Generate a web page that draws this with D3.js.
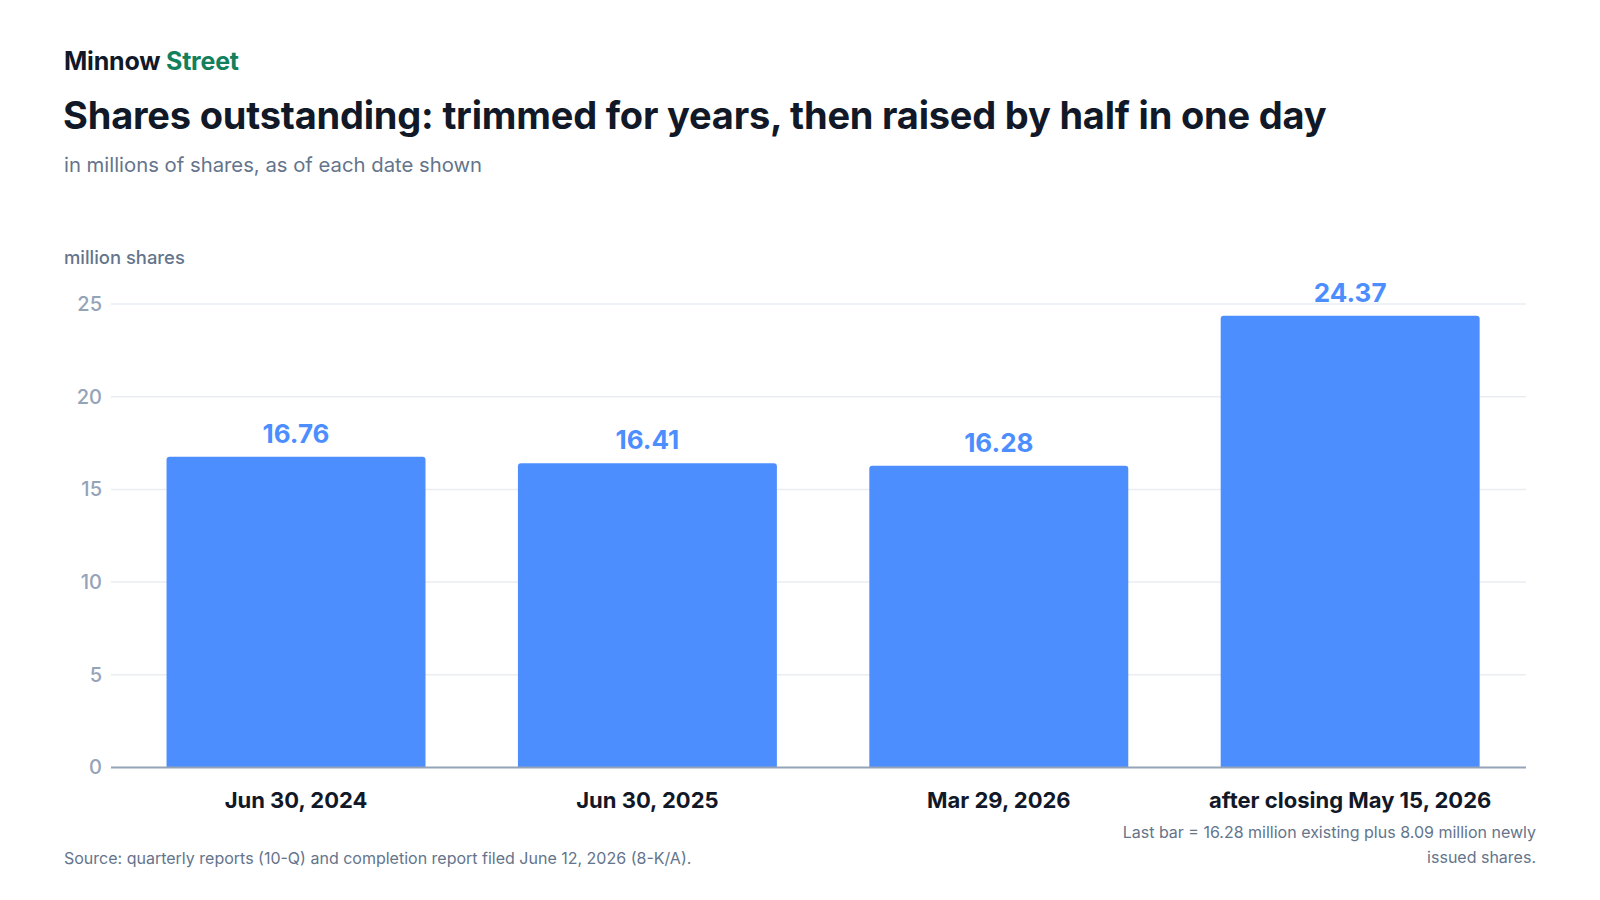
<!DOCTYPE html>
<html>
<head>
<meta charset="utf-8">
<script src="https://cdn.jsdelivr.net/npm/d3@7"></script>
<style>
  body { margin: 0; background: #fff; }
  svg { font-family: Inter, "Noto Sans", sans-serif; display: block; }
</style>
</head>
<body>
<div id="chart"></div>
<script>
// data
var categories = ["Jun 30, 2024", "Jun 30, 2025", "Mar 29, 2026", "after closing May 15, 2026"];
var values = [16.76, 16.41, 16.28, 24.37];
var yTicks = [0, 5, 10, 15, 20, 25];
var noteLines = ["Last bar = 16.28 million existing plus 8.09 million newly", "issued shares."];

var width = 1600, height = 900;
var plotLeft = 111, plotRight = 1526, plotTop = 304, plotBottom = 767.5;

var svg = d3.select("#chart").append("svg")
    .attr("width", width)
    .attr("height", height);

// header
var brand = svg.append("text")
    .attr("x", 64).attr("y", 70)
    .attr("font-size", 25).attr("font-weight", 700)
    .attr("letter-spacing", -0.2);
brand.append("tspan").attr("fill", "#111827").text("Minnow ");
brand.append("tspan").attr("fill", "#12805c").text("Street");

svg.append("text")
    .attr("x", 63).attr("y", 129)
    .attr("font-size", 38).attr("font-weight", 700)
    .attr("letter-spacing", -0.2)
    .attr("fill", "#111827")
    .text("Shares outstanding: trimmed for years, then raised by half in one day");

svg.append("text")
    .attr("x", 64).attr("y", 172)
    .attr("font-size", 20.3)
    .attr("fill", "#64748b")
    .text("in millions of shares, as of each date shown");

svg.append("text")
    .attr("x", 64).attr("y", 264)
    .attr("font-size", 18.4).attr("font-weight", 500)
    .attr("fill", "#64748b")
    .text("million shares");

// bands sit a little right of the grid's left edge
var x = d3.scaleBand()
    .domain(categories)
    .range([plotLeft + 4.6, plotRight + 4.6])
    .paddingInner(0.263)
    .paddingOuter(0.145);

var y = d3.scaleLinear()
    .domain([0, 25])
    .range([plotBottom, plotTop]);

// gridlines
svg.append("g")
    .selectAll("line")
    .data(yTicks.filter(function (d) { return d > 0; }))
    .enter().append("line")
    .attr("x1", plotLeft).attr("x2", plotRight)
    .attr("y1", function (d) { return y(d); })
    .attr("y2", function (d) { return y(d); })
    .attr("stroke", "#e9edf2")
    .attr("stroke-width", 1.5);

// y axis labels
var yAxis = svg.append("g")
    .attr("transform", "translate(" + plotLeft + ",0)")
    .call(d3.axisLeft(y).tickValues(yTicks).tickSize(0).tickPadding(9));
yAxis.select(".domain").remove();
yAxis.selectAll("text")
    .attr("font-family", "Inter, sans-serif")
    .attr("font-size", 20)
    .attr("font-weight", 500)
    .attr("fill", "#94a3b8");

// bars with slightly rounded tops
function barPath(d, i) {
    var x0 = x(categories[i]), w = x.bandwidth(), y0 = y(d), y1 = y(0), r = 3;
    return "M" + x0 + "," + y1 +
        "V" + (y0 + r) + "Q" + x0 + "," + y0 + " " + (x0 + r) + "," + y0 +
        "H" + (x0 + w - r) + "Q" + (x0 + w) + "," + y0 + " " + (x0 + w) + "," + (y0 + r) +
        "V" + y1 + "Z";
}

svg.append("g")
    .selectAll("path")
    .data(values)
    .enter().append("path")
    .attr("d", barPath)
    .attr("fill", "#4d8eff");

// value labels
svg.append("g")
    .selectAll("text")
    .data(values)
    .enter().append("text")
    .attr("x", function (d, i) { return x(categories[i]) + x.bandwidth() / 2; })
    .attr("y", function (d) { return y(d) - 14; })
    .attr("text-anchor", "middle")
    .attr("font-size", 26).attr("font-weight", 700)
    .attr("fill", "#4d8eff")
    .text(function (d) { return d3.format(".2f")(d); });

// baseline
svg.append("line")
    .attr("x1", plotLeft).attr("x2", plotRight)
    .attr("y1", y(0)).attr("y2", y(0))
    .attr("stroke", "#94a3b8")
    .attr("stroke-width", 2);

// x axis labels
var xAxis = svg.append("g")
    .attr("transform", "translate(0," + y(0) + ")")
    .call(d3.axisBottom(x).tickSize(0).tickPadding(25));
xAxis.select(".domain").remove();
xAxis.selectAll("text")
    .attr("font-family", "Inter, sans-serif")
    .attr("font-size", 22)
    .attr("font-weight", 700)
    .attr("fill", "#111827");

// footer
svg.append("text")
    .attr("x", 64).attr("y", 864)
    .attr("font-size", 16)
    .attr("fill", "#64748b")
    .text("Source: quarterly reports (10-Q) and completion report filed June 12, 2026 (8-K/A).");

svg.append("g")
    .selectAll("text")
    .data(noteLines)
    .enter().append("text")
    .attr("x", 1536)
    .attr("y", function (d, i) { return 838 + i * 24.5; })
    .attr("text-anchor", "end")
    .attr("font-size", 16)
    .attr("fill", "#64748b")
    .text(function (d) { return d; });
</script>
</body>
</html>
